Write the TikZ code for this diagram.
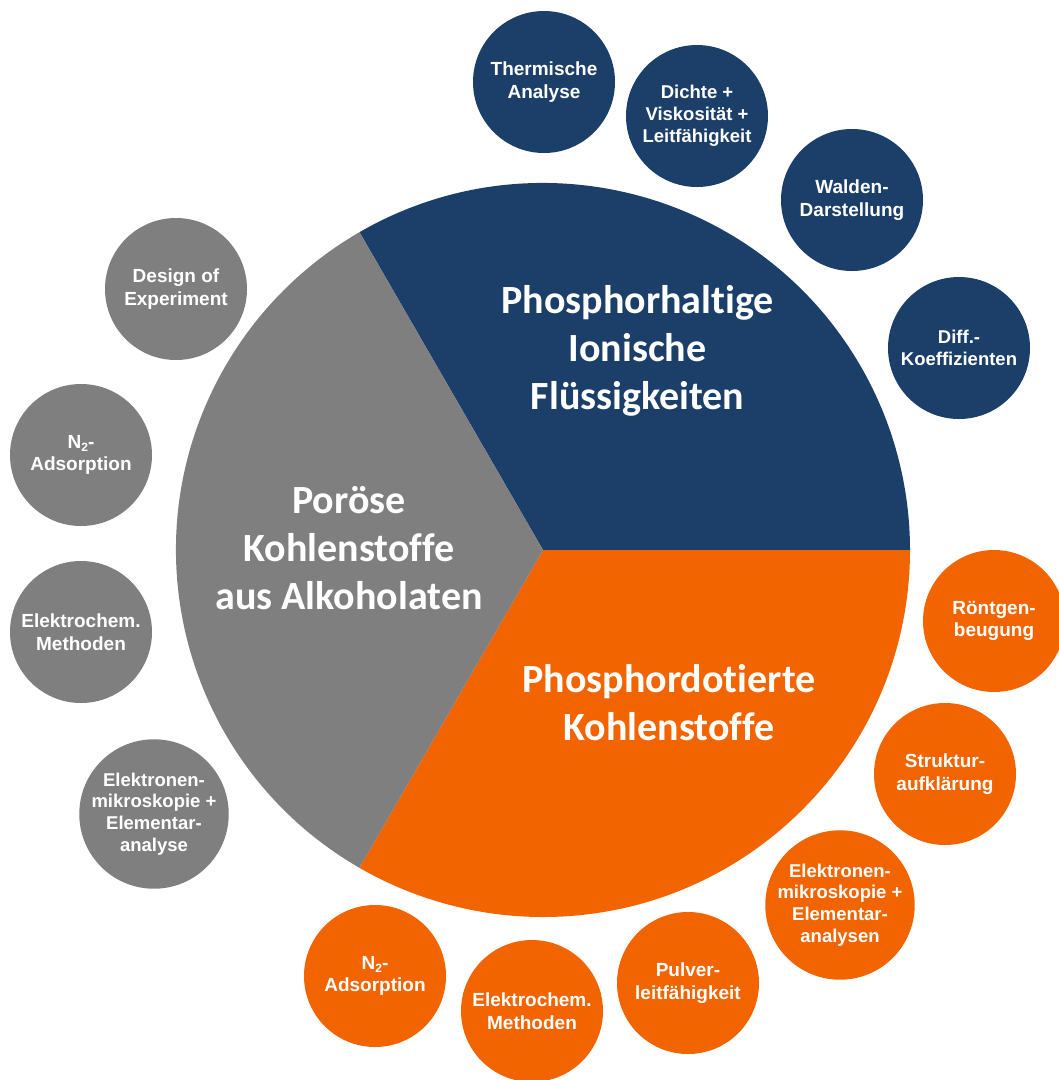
\documentclass[tikz,border=0pt]{standalone}
\usepackage{fontspec}
\setmainfont{Liberation Sans}
\newfontfamily\calibri[Ligatures=NoCommon]{Carlito}
\definecolor{pblue}{HTML}{1C3F6A}
\definecolor{porange}{HTML}{F26400}
\definecolor{pgray}{HTML}{7F7F7F}
\newcommand{\Ntwo}{N\raisebox{-0.3ex}{\fontsize{12}{12}\selectfont 2}-}
\begin{document}
\begin{tikzpicture}[x=1pt,y=-1pt,
  bubble/.style={circle, minimum size=142pt, inner sep=0pt, text=white, align=center,
    font=\fontsize{19}{22.5}\selectfont\bfseries},
  tight/.style={font=\fontsize{18.5}{21.8}\selectfont\bfseries},
  blueb/.style={bubble, fill=pblue},
  orangeb/.style={bubble, fill=porange},
  grayb/.style={bubble, fill=pgray},
  biglabel/.style={text=white, align=center, inner sep=0pt,
    font=\calibri\fontsize{40}{48}\selectfont\bfseries}
]
\clip (0,0) rectangle (1059,1080);
\fill[white] (0,0) rectangle (1059,1080);

% main pie
\coordinate (c) at (543,550);
\fill[pblue]   (c) -- ++(-120:367) arc[start angle=-120, end angle=0,   radius=367] -- cycle;
\fill[porange] (c) -- ++(0:367)    arc[start angle=0,    end angle=120, radius=367] -- cycle;
\fill[pgray]   (c) -- ++(120:367)  arc[start angle=120,  end angle=240, radius=367] -- cycle;

\node[biglabel] (lblue)   at (637.5,351) {Phosphorhaltige\\Ionische\\Flüssigkeiten};
\node[biglabel] (lgray)   at (349,548)   {Poröse\\Kohlenstoffe\\aus Alkoholaten};
\node[biglabel] (lorange) at (669,703)   {Phosphordotierte\\Kohlenstoffe};

% blue satellites
\node[blueb] (b1) at (544,82)  {Thermische\\Analyse};
\node[blueb, tight] (b2) at (697,116) {Dichte +\\Viskosität +\\Leitfähigkeit};
\node[blueb] (b3) at (852,200) {Walden-\\Darstellung};
\node[blueb, tight] (b4) at (959,348) {Diff.-\\Koeffizienten};

% orange satellites
\node[orangeb] (o1) at (994,621)  {Röntgen-\\beugung};
\node[orangeb] (o2) at (945,774)  {Struktur-\\aufklärung};
\node[orangeb, tight] (o3) at (840,905)  {Elektronen-\\mikroskopie +\\Elementar-\\analysen};
\node[orangeb] (o4) at (688,983)  {Pulver-\\leitfähigkeit};
\node[orangeb] (o5) at (532,1011) {Elektrochem.\\Methoden};
\node[orangeb] (o6) at (375,976)  {\Ntwo\\Adsorption};

% gray satellites
\node[grayb] (g1) at (176,289) {Design of\\Experiment};
\node[grayb] (g2) at (81,455)  {\Ntwo\\Adsorption};
\node[grayb] (g3) at (81,632)  {Elektrochem.\\Methoden};
\node[grayb, tight] (g4) at (154,814) {Elektronen-\\mikroskopie +\\Elementar-\\analyse};
\end{tikzpicture}
\end{document}
